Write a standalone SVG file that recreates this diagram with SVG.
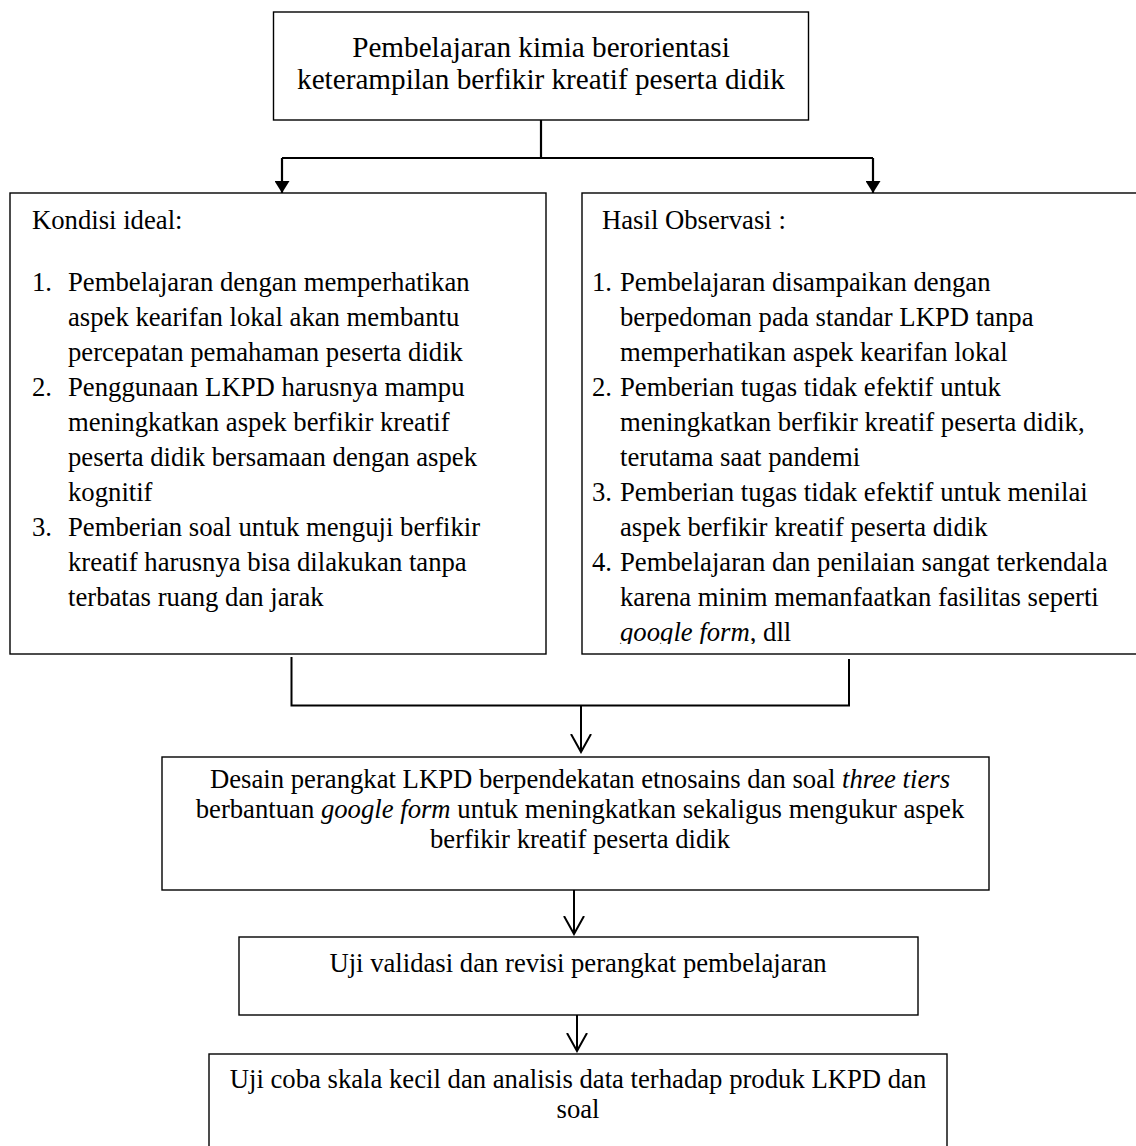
<svg xmlns="http://www.w3.org/2000/svg" width="1136" height="1146" viewBox="0 0 1136 1146">
  <style>
    .box { fill: #fff; stroke: #000; stroke-width: 1.4; }
    .t { font-family: "Liberation Serif", "Times New Roman", serif; font-size: 26.7px; fill: #000; }
    .tt { font-family: "Liberation Serif", "Times New Roman", serif; font-size: 29.2px; fill: #000; }
    .c { text-anchor: middle; }
    .i { font-style: italic; }
    .ln { fill: none; stroke: #000; stroke-width: 2.2; }
    .ln2 { fill: none; stroke: #000; stroke-width: 2; }
  </style>
  <defs>
    <marker id="fill" viewBox="0 0 12 15" refX="12" refY="7.5" markerWidth="12" markerHeight="15" markerUnits="userSpaceOnUse" orient="auto">
      <path d="M0,0 L12,7.5 L0,15 Z" fill="#000"/>
    </marker>
    <marker id="open" viewBox="0 0 20 22" refX="18" refY="11" markerWidth="20" markerHeight="22" markerUnits="userSpaceOnUse" orient="auto">
      <path d="M0,1 L18,11 L0,21" fill="none" stroke="#000" stroke-width="2"/>
    </marker>
    <clipPath id="clipR">
      <rect x="582" y="193" width="560" height="451"/>
    </clipPath>
  </defs>

  <g id="connectors">
    <path class="ln" d="M541,120 V158"/>
    <path class="ln" d="M282,158 H873"/>
    <path class="ln" d="M282,158 V193" marker-end="url(#fill)"/>
    <path class="ln" d="M873,158 V193" marker-end="url(#fill)"/>
    <path class="ln2" d="M291.5,657 V705.5 H849 V659"/>
    <path class="ln2" d="M581,705.5 V752" marker-end="url(#open)"/>
    <path class="ln2" d="M574,890 V934" marker-end="url(#open)"/>
    <path class="ln2" d="M577,1015 V1051" marker-end="url(#open)"/>
  </g>

  <g id="top">
    <rect class="box" x="273.5" y="12" width="535" height="108"/>
    <text class="tt c" x="541" y="57">Pembelajaran kimia berorientasi</text>
    <text class="tt c" x="541" y="89">keterampilan berfikir kreatif peserta didik</text>
  </g>

  <g id="ideal">
    <rect class="box" x="10" y="193" width="536" height="461"/>
    <text class="t" x="32" y="229">Kondisi ideal:</text>
    <text class="t" x="32" y="291">1.</text>
    <text class="t" x="68" y="291">Pembelajaran dengan memperhatikan</text>
    <text class="t" x="68" y="326">aspek kearifan lokal akan membantu</text>
    <text class="t" x="68" y="361">percepatan pemahaman peserta didik</text>
    <text class="t" x="32" y="396">2.</text>
    <text class="t" x="68" y="396">Penggunaan LKPD harusnya mampu</text>
    <text class="t" x="68" y="431">meningkatkan aspek berfikir kreatif</text>
    <text class="t" x="68" y="466">peserta didik bersamaan dengan aspek</text>
    <text class="t" x="68" y="501">kognitif</text>
    <text class="t" x="32" y="536">3.</text>
    <text class="t" x="68" y="536">Pemberian soal untuk menguji berfikir</text>
    <text class="t" x="68" y="571">kreatif harusnya bisa dilakukan tanpa</text>
    <text class="t" x="68" y="606">terbatas ruang dan jarak</text>
  </g>

  <g id="observasi">
    <rect class="box" x="582" y="193" width="560" height="461"/>
    <g clip-path="url(#clipR)">
      <text class="t" x="602" y="229">Hasil Observasi :</text>
      <text class="t" x="592" y="291">1.</text>
      <text class="t" x="620" y="291">Pembelajaran disampaikan dengan</text>
      <text class="t" x="620" y="326">berpedoman pada standar LKPD tanpa</text>
      <text class="t" x="620" y="361">memperhatikan aspek kearifan lokal</text>
      <text class="t" x="592" y="396">2.</text>
      <text class="t" x="620" y="396">Pemberian tugas tidak efektif untuk</text>
      <text class="t" x="620" y="431">meningkatkan berfikir kreatif peserta didik,</text>
      <text class="t" x="620" y="466">terutama saat pandemi</text>
      <text class="t" x="592" y="501">3.</text>
      <text class="t" x="620" y="501">Pemberian tugas tidak efektif untuk menilai</text>
      <text class="t" x="620" y="536">aspek berfikir kreatif peserta didik</text>
      <text class="t" x="592" y="571">4.</text>
      <text class="t" x="620" y="571">Pembelajaran dan penilaian sangat terkendala</text>
      <text class="t" x="620" y="606">karena minim memanfaatkan fasilitas seperti</text>
      <text class="t" x="620" y="641"><tspan class="i">google form</tspan>, dll</text>
    </g>
  </g>

  <g id="desain">
    <rect class="box" x="162" y="757" width="827" height="133"/>
    <text class="t c" x="580" y="788">Desain perangkat LKPD berpendekatan etnosains dan soal <tspan class="i">three tiers</tspan></text>
    <text class="t c" x="580" y="818">berbantuan <tspan class="i">google form</tspan> untuk meningkatkan sekaligus mengukur aspek</text>
    <text class="t c" x="580" y="848">berfikir kreatif peserta didik</text>
  </g>

  <g id="validasi">
    <rect class="box" x="239" y="937" width="679" height="78"/>
    <text class="t c" x="578" y="972">Uji validasi dan revisi perangkat pembelajaran</text>
  </g>

  <g id="ujicoba">
    <rect class="box" x="209" y="1054" width="738" height="100"/>
    <text class="t c" x="578" y="1088">Uji coba skala kecil dan analisis data terhadap produk LKPD dan</text>
    <text class="t c" x="578" y="1118">soal</text>
  </g>
</svg>
